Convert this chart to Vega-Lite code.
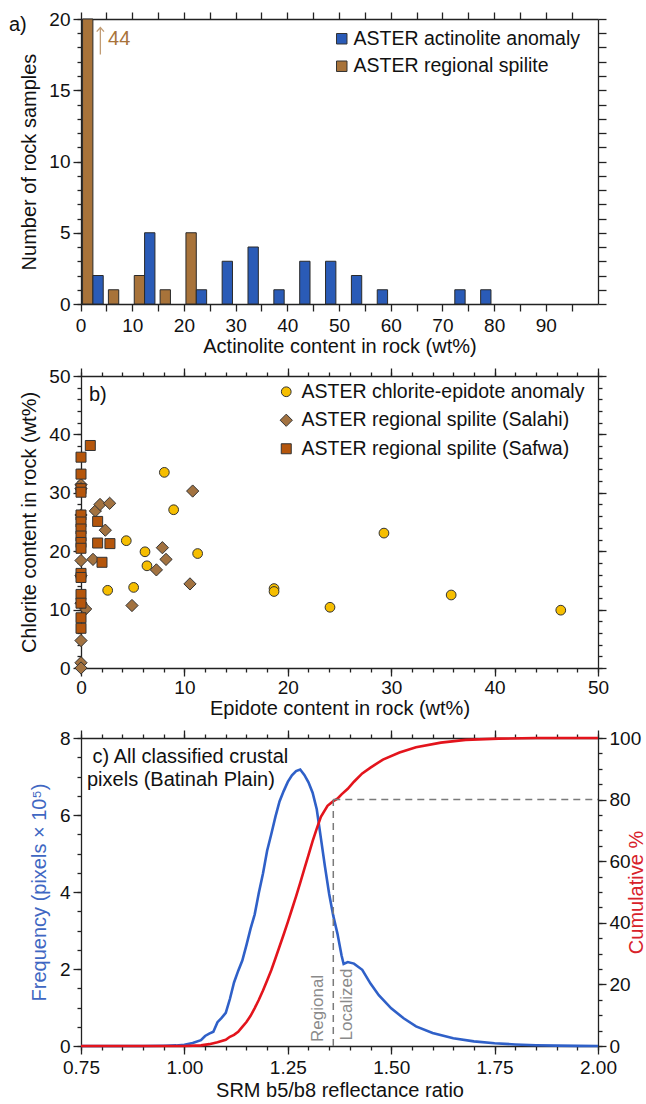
{
  "$schema": "https://vega.github.io/schema/vega-lite/v6.json",
  "background": "white",
  "padding": {"left": 8, "top": 10, "right": 0, "bottom": 0},
  "spacing": 11,
  "resolve": {
    "scale": {"color": "independent", "shape": "independent", "size": "independent"},
    "legend": {"color": "independent", "shape": "independent", "size": "independent"}
  },
  "datasets": {
    "hist": [
      {"bin": 0, "series": "ASTER regional spilite", "count": 44},
      {"bin": 5, "series": "ASTER regional spilite", "count": 1},
      {"bin": 10, "series": "ASTER regional spilite", "count": 2},
      {"bin": 15, "series": "ASTER regional spilite", "count": 1},
      {"bin": 20, "series": "ASTER regional spilite", "count": 5},
      {"bin": 0, "series": "ASTER actinolite anomaly", "count": 2},
      {"bin": 10, "series": "ASTER actinolite anomaly", "count": 5},
      {"bin": 20, "series": "ASTER actinolite anomaly", "count": 1},
      {"bin": 25, "series": "ASTER actinolite anomaly", "count": 3},
      {"bin": 30, "series": "ASTER actinolite anomaly", "count": 4},
      {"bin": 35, "series": "ASTER actinolite anomaly", "count": 1},
      {"bin": 40, "series": "ASTER actinolite anomaly", "count": 3},
      {"bin": 45, "series": "ASTER actinolite anomaly", "count": 3},
      {"bin": 50, "series": "ASTER actinolite anomaly", "count": 2},
      {"bin": 55, "series": "ASTER actinolite anomaly", "count": 1},
      {"bin": 70, "series": "ASTER actinolite anomaly", "count": 1},
      {"bin": 75, "series": "ASTER actinolite anomaly", "count": 1}
    ],
    "histNote": [
      {"bin": 0, "series": "ASTER actinolite anomaly", "mid": 18.45, "ty": 18.6, "label": "44"}
    ],
    "panelA": [
      {"bin": 0, "y": 19.6, "label": "a)"}
    ],
    "pts": [
      {"epidote": 10.8, "chlorite": 30.3, "series": "ASTER regional spilite (Salahi)"},
      {"epidote": 1.39, "chlorite": 26.9, "series": "ASTER regional spilite (Salahi)"},
      {"epidote": 1.84, "chlorite": 28.0, "series": "ASTER regional spilite (Salahi)"},
      {"epidote": 2.77, "chlorite": 28.2, "series": "ASTER regional spilite (Salahi)"},
      {"epidote": 2.35, "chlorite": 23.6, "series": "ASTER regional spilite (Salahi)"},
      {"epidote": 1.16, "chlorite": 18.6, "series": "ASTER regional spilite (Salahi)"},
      {"epidote": 7.87, "chlorite": 20.6, "series": "ASTER regional spilite (Salahi)"},
      {"epidote": 8.22, "chlorite": 18.6, "series": "ASTER regional spilite (Salahi)"},
      {"epidote": 7.29, "chlorite": 16.8, "series": "ASTER regional spilite (Salahi)"},
      {"epidote": 10.54, "chlorite": 14.4, "series": "ASTER regional spilite (Salahi)"},
      {"epidote": 4.93, "chlorite": 10.7, "series": "ASTER regional spilite (Salahi)"},
      {"epidote": 0.45, "chlorite": 10.1, "series": "ASTER regional spilite (Salahi)"},
      {"epidote": 0, "chlorite": 31.4, "series": "ASTER regional spilite (Salahi)"},
      {"epidote": 0, "chlorite": 30.7, "series": "ASTER regional spilite (Salahi)"},
      {"epidote": 0, "chlorite": 26.2, "series": "ASTER regional spilite (Salahi)"},
      {"epidote": 0, "chlorite": 18.4, "series": "ASTER regional spilite (Salahi)"},
      {"epidote": 0, "chlorite": 15.8, "series": "ASTER regional spilite (Salahi)"},
      {"epidote": 0, "chlorite": 11.1, "series": "ASTER regional spilite (Salahi)"},
      {"epidote": 0, "chlorite": 4.7, "series": "ASTER regional spilite (Salahi)"},
      {"epidote": 0, "chlorite": 0.9, "series": "ASTER regional spilite (Salahi)"},
      {"epidote": 0, "chlorite": 0, "series": "ASTER regional spilite (Salahi)"},
      {"epidote": 0.9, "chlorite": 38.1, "series": "ASTER regional spilite (Safwa)"},
      {"epidote": 0, "chlorite": 36.1, "series": "ASTER regional spilite (Safwa)"},
      {"epidote": 0, "chlorite": 33.2, "series": "ASTER regional spilite (Safwa)"},
      {"epidote": 0, "chlorite": 30.7, "series": "ASTER regional spilite (Safwa)"},
      {"epidote": 0, "chlorite": 30.1, "series": "ASTER regional spilite (Safwa)"},
      {"epidote": 0, "chlorite": 26.2, "series": "ASTER regional spilite (Safwa)"},
      {"epidote": 0, "chlorite": 25.0, "series": "ASTER regional spilite (Safwa)"},
      {"epidote": 0, "chlorite": 23.8, "series": "ASTER regional spilite (Safwa)"},
      {"epidote": 0, "chlorite": 22.6, "series": "ASTER regional spilite (Safwa)"},
      {"epidote": 0, "chlorite": 21.5, "series": "ASTER regional spilite (Safwa)"},
      {"epidote": 0, "chlorite": 20.5, "series": "ASTER regional spilite (Safwa)"},
      {"epidote": 1.61, "chlorite": 25.1, "series": "ASTER regional spilite (Safwa)"},
      {"epidote": 1.61, "chlorite": 21.4, "series": "ASTER regional spilite (Safwa)"},
      {"epidote": 2.8, "chlorite": 21.3, "series": "ASTER regional spilite (Safwa)"},
      {"epidote": 2.03, "chlorite": 18.1, "series": "ASTER regional spilite (Safwa)"},
      {"epidote": 0, "chlorite": 16.2, "series": "ASTER regional spilite (Safwa)"},
      {"epidote": 0, "chlorite": 15.5, "series": "ASTER regional spilite (Safwa)"},
      {"epidote": 0, "chlorite": 12.6, "series": "ASTER regional spilite (Safwa)"},
      {"epidote": 0, "chlorite": 11.1, "series": "ASTER regional spilite (Safwa)"},
      {"epidote": 0, "chlorite": 8.6, "series": "ASTER regional spilite (Safwa)"},
      {"epidote": 0, "chlorite": 6.8, "series": "ASTER regional spilite (Safwa)"},
      {"epidote": 8.06, "chlorite": 33.5, "series": "ASTER chlorite-epidote anomaly"},
      {"epidote": 8.96, "chlorite": 27.1, "series": "ASTER chlorite-epidote anomaly"},
      {"epidote": 4.38, "chlorite": 21.8, "series": "ASTER chlorite-epidote anomaly"},
      {"epidote": 6.19, "chlorite": 19.9, "series": "ASTER chlorite-epidote anomaly"},
      {"epidote": 6.38, "chlorite": 17.5, "series": "ASTER chlorite-epidote anomaly"},
      {"epidote": 11.28, "chlorite": 19.6, "series": "ASTER chlorite-epidote anomaly"},
      {"epidote": 2.58, "chlorite": 13.3, "series": "ASTER chlorite-epidote anomaly"},
      {"epidote": 5.09, "chlorite": 13.8, "series": "ASTER chlorite-epidote anomaly"},
      {"epidote": 18.67, "chlorite": 13.6, "series": "ASTER chlorite-epidote anomaly"},
      {"epidote": 18.67, "chlorite": 13.1, "series": "ASTER chlorite-epidote anomaly"},
      {"epidote": 24.08, "chlorite": 10.4, "series": "ASTER chlorite-epidote anomaly"},
      {"epidote": 29.3, "chlorite": 23.1, "series": "ASTER chlorite-epidote anomaly"},
      {"epidote": 35.8, "chlorite": 12.5, "series": "ASTER chlorite-epidote anomaly"},
      {"epidote": 46.4, "chlorite": 9.9, "series": "ASTER chlorite-epidote anomaly"}
    ],
    "panelB": [
      {"epidote": 0.77, "chlorite": 46.75, "label": "b)"}
    ],
    "freq": [
      {"ratio": 0.75, "freq": 0}, {"ratio": 0.80, "freq": 0}, {"ratio": 0.85, "freq": 0},
      {"ratio": 0.90, "freq": 0}, {"ratio": 0.95, "freq": 0.005}, {"ratio": 0.98, "freq": 0.015},
      {"ratio": 1.00, "freq": 0.03}, {"ratio": 1.02, "freq": 0.08}, {"ratio": 1.04, "freq": 0.15},
      {"ratio": 1.05, "freq": 0.26}, {"ratio": 1.06, "freq": 0.32}, {"ratio": 1.07, "freq": 0.37},
      {"ratio": 1.08, "freq": 0.62}, {"ratio": 1.09, "freq": 0.73}, {"ratio": 1.10, "freq": 0.86},
      {"ratio": 1.11, "freq": 1.22}, {"ratio": 1.12, "freq": 1.65}, {"ratio": 1.13, "freq": 1.95},
      {"ratio": 1.14, "freq": 2.22}, {"ratio": 1.15, "freq": 2.62}, {"ratio": 1.16, "freq": 3.05},
      {"ratio": 1.17, "freq": 3.42}, {"ratio": 1.18, "freq": 3.98}, {"ratio": 1.19, "freq": 4.48},
      {"ratio": 1.20, "freq": 5.07}, {"ratio": 1.21, "freq": 5.5}, {"ratio": 1.22, "freq": 5.95},
      {"ratio": 1.23, "freq": 6.35}, {"ratio": 1.24, "freq": 6.62}, {"ratio": 1.25, "freq": 6.86},
      {"ratio": 1.26, "freq": 7.03}, {"ratio": 1.27, "freq": 7.14}, {"ratio": 1.28, "freq": 7.18},
      {"ratio": 1.29, "freq": 7.04}, {"ratio": 1.30, "freq": 6.85}, {"ratio": 1.31, "freq": 6.58},
      {"ratio": 1.32, "freq": 6.15}, {"ratio": 1.33, "freq": 5.4}, {"ratio": 1.34, "freq": 4.65},
      {"ratio": 1.35, "freq": 3.95}, {"ratio": 1.36, "freq": 3.38}, {"ratio": 1.37, "freq": 2.92},
      {"ratio": 1.38, "freq": 2.35}, {"ratio": 1.385, "freq": 2.13}, {"ratio": 1.395, "freq": 2.18},
      {"ratio": 1.41, "freq": 2.14}, {"ratio": 1.43, "freq": 1.98}, {"ratio": 1.45, "freq": 1.62},
      {"ratio": 1.47, "freq": 1.32}, {"ratio": 1.50, "freq": 0.98}, {"ratio": 1.53, "freq": 0.72},
      {"ratio": 1.56, "freq": 0.51}, {"ratio": 1.60, "freq": 0.34}, {"ratio": 1.65, "freq": 0.2},
      {"ratio": 1.70, "freq": 0.12}, {"ratio": 1.75, "freq": 0.07}, {"ratio": 1.80, "freq": 0.04},
      {"ratio": 1.85, "freq": 0.02}, {"ratio": 1.90, "freq": 0.01}, {"ratio": 1.95, "freq": 0.003},
      {"ratio": 2.00, "freq": 0}
    ],
    "cum": [
      {"ratio": 0.75, "cum": 0}, {"ratio": 1.00, "cum": 0}, {"ratio": 1.04, "cum": 0.2},
      {"ratio": 1.06, "cum": 0.6}, {"ratio": 1.08, "cum": 1.2}, {"ratio": 1.10, "cum": 2.0},
      {"ratio": 1.11, "cum": 3.0}, {"ratio": 1.12, "cum": 3.6}, {"ratio": 1.13, "cum": 4.6},
      {"ratio": 1.14, "cum": 6.2}, {"ratio": 1.15, "cum": 7.8}, {"ratio": 1.16, "cum": 9.8},
      {"ratio": 1.17, "cum": 12.3}, {"ratio": 1.18, "cum": 15.0}, {"ratio": 1.19, "cum": 18.0},
      {"ratio": 1.20, "cum": 21.3}, {"ratio": 1.21, "cum": 24.6}, {"ratio": 1.22, "cum": 28.4},
      {"ratio": 1.23, "cum": 32.3}, {"ratio": 1.24, "cum": 36.2}, {"ratio": 1.25, "cum": 40.2},
      {"ratio": 1.26, "cum": 44.4}, {"ratio": 1.27, "cum": 48.6}, {"ratio": 1.28, "cum": 53.0},
      {"ratio": 1.29, "cum": 57.5}, {"ratio": 1.30, "cum": 62.0}, {"ratio": 1.31, "cum": 66.5},
      {"ratio": 1.32, "cum": 70.6}, {"ratio": 1.33, "cum": 74.4}, {"ratio": 1.346, "cum": 78.0},
      {"ratio": 1.36, "cum": 79.5}, {"ratio": 1.37, "cum": 80.3}, {"ratio": 1.38, "cum": 81.7},
      {"ratio": 1.395, "cum": 83.5}, {"ratio": 1.41, "cum": 85.8}, {"ratio": 1.43, "cum": 88.5},
      {"ratio": 1.45, "cum": 90.4}, {"ratio": 1.48, "cum": 93.0}, {"ratio": 1.52, "cum": 95.3},
      {"ratio": 1.56, "cum": 97.0}, {"ratio": 1.62, "cum": 98.5}, {"ratio": 1.68, "cum": 99.4},
      {"ratio": 1.76, "cum": 99.8}, {"ratio": 1.85, "cum": 100}, {"ratio": 2.00, "cum": 100}
    ],
    "guides": [
      {"ratio": 1.36, "ratio2": 1.36, "cum": 0, "cum2": 80},
      {"ratio": 1.36, "ratio2": 2.0, "cum": 80, "cum2": 80}
    ],
    "zoneLabels": [
      {"ratio": 1.324, "cum": 1.3, "label": "Regional"},
      {"ratio": 1.393, "cum": 1.8, "label": "Localized"}
    ],
    "panelC": [
      {"ratio": 0.778, "freq": 7.506, "label": "c) All classified crustal"},
      {"ratio": 0.7645, "freq": 6.9, "label": "pixels (Batinah Plain)"}
    ]
  },
  "vconcat": [
    {
      "width": 517,
      "height": 285,
      "layer": [
        {
          "data": {"name": "hist"},
          "mark": {"type": "bar", "stroke": "#2a2a2a", "strokeWidth": 1},
          "encoding": {
            "x": {
              "field": "bin", "type": "ordinal",
              "scale": {"domain": [0,5,10,15,20,25,30,35,40,45,50,55,60,65,70,75,80,85,90,95], "paddingInner": 0, "paddingOuter": 0},
              "axis": {"orient": "bottom", "title": "Actinolite content in rock (wt%)", "bandPosition": 0, "labelOffset": -12.9, "labelAngle": 0, "tickSize": 7, "labelPadding": 5, "titlePadding": 1, "labelExpr": "datum.value % 10 === 0 ? datum.label : ''"}
            },
            "xOffset": {
              "field": "series", "type": "nominal",
              "scale": {"domain": ["ASTER regional spilite", "ASTER actinolite anomaly"], "paddingInner": 0, "paddingOuter": 0.25, "align": 0.3}
            },
            "y": {
              "field": "count", "type": "quantitative",
              "scale": {"domain": [0, 20], "nice": false, "clamp": true},
              "axis": {"orient": "left", "title": "Number of rock samples", "values": [0,5,10,15,20], "tickSize": 8, "labelPadding": 3, "titlePadding": 9}
            },
            "color": {
              "field": "series", "type": "nominal",
              "scale": {"domain": ["ASTER actinolite anomaly", "ASTER regional spilite"], "range": ["#2A5BB7", "#A8733A"]},
              "legend": {"title": null, "orient": "none", "legendX": 251, "legendY": 10, "symbolType": "square", "symbolSize": 110, "labelOffset": 2, "rowPadding": 6.5}
            }
          }
        },
        {
          "data": {"name": "hist"},
          "mark": {"type": "point", "opacity": 0},
          "encoding": {
            "x": {"field": "bin", "type": "ordinal", "axis": {"orient": "top", "title": null, "labels": false, "bandPosition": 0, "tickSize": 7}},
            "y": {"field": "count", "type": "quantitative", "axis": {"orient": "left", "title": null, "labels": false, "domain": false, "values": [0,1,2,3,4,5,6,7,8,9,10,11,12,13,14,15,16,17,18,19,20], "tickSize": 4}}
          }
        },
        {
          "data": {"name": "hist"},
          "mark": {"type": "point", "opacity": 0},
          "encoding": {
            "x": {"field": "bin", "type": "ordinal", "axis": null},
            "y": {"field": "count", "type": "quantitative", "axis": {"orient": "right", "title": null, "labels": false, "values": [0,1,2,3,4,5,6,7,8,9,10,11,12,13,14,15,16,17,18,19,20], "tickSize": 8}}
          }
        },
        {
          "data": {"name": "histNote"},
          "mark": {"type": "point", "shape": "M0.17,1L0.17,-1M-0.1,-0.7L0.17,-1L0.44,-0.7", "size": 730, "filled": false, "stroke": "#A8733A", "strokeWidth": 1.3},
          "encoding": {
            "x": {"field": "bin", "type": "ordinal", "axis": null},
            "xOffset": {"field": "series", "type": "nominal"},
            "y": {"field": "mid", "type": "quantitative", "axis": null}
          }
        },
        {
          "data": {"name": "histNote"},
          "mark": {"type": "text", "align": "left", "baseline": "middle", "dx": 10, "fontSize": 20, "color": "#A8733A"},
          "encoding": {
            "x": {"field": "bin", "type": "ordinal", "axis": null},
            "xOffset": {"field": "series", "type": "nominal"},
            "y": {"field": "ty", "type": "quantitative", "axis": null},
            "text": {"field": "label"}
          }
        },
        {
          "data": {"name": "panelA"},
          "mark": {"type": "text", "align": "left", "baseline": "middle", "dx": -85, "fontSize": 20, "color": "#111"},
          "encoding": {
            "x": {"field": "bin", "type": "ordinal", "axis": null},
            "y": {"field": "y", "type": "quantitative", "axis": null},
            "text": {"field": "label"}
          }
        }
      ],
      "resolve": {"axis": {"x": "independent", "y": "independent"}}
    },
    {
      "width": 517,
      "height": 292,
      "layer": [
        {
          "data": {"name": "pts"},
          "mark": {"type": "point", "filled": true, "opacity": 1, "stroke": "#333333", "strokeWidth": 1},
          "encoding": {
            "x": {
              "field": "epidote", "type": "quantitative",
              "scale": {"domain": [0, 50], "nice": false},
              "axis": {"orient": "bottom", "title": "Epidote content in rock (wt%)", "values": [0,10,20,30,40,50], "tickSize": 8, "labelPadding": 2, "titlePadding": 1}
            },
            "y": {
              "field": "chlorite", "type": "quantitative",
              "scale": {"domain": [0, 50], "nice": false},
              "axis": {"orient": "left", "title": "Chlorite content in rock (wt%)", "values": [0,10,20,30,40,50], "tickSize": 8, "labelPadding": 3, "titlePadding": 9}
            },
            "color": {
              "field": "series", "type": "nominal",
              "scale": {"domain": ["ASTER chlorite-epidote anomaly", "ASTER regional spilite (Salahi)", "ASTER regional spilite (Safwa)"], "range": ["#F6BE00", "#A27240", "#B5560C"]},
              "legend": {"title": null, "orient": "none", "legendX": 195.5, "legendY": 6, "labelOffset": 5.5, "rowPadding": 7.5}
            },
            "shape": {
              "field": "series", "type": "nominal",
              "scale": {"domain": ["ASTER chlorite-epidote anomaly", "ASTER regional spilite (Salahi)", "ASTER regional spilite (Safwa)"], "range": ["circle", "diamond", "square"]},
              "legend": {"title": null, "orient": "none", "legendX": 195.5, "legendY": 6, "labelOffset": 5.5, "rowPadding": 7.5}
            },
            "size": {
              "field": "series", "type": "nominal",
              "scale": {"type": "ordinal", "domain": ["ASTER chlorite-epidote anomaly", "ASTER regional spilite (Salahi)", "ASTER regional spilite (Safwa)"], "range": [95, 150, 100]},
              "legend": {"title": null, "orient": "none", "legendX": 195.5, "legendY": 6, "labelOffset": 5.5, "rowPadding": 7.5}
            }
          }
        },
        {
          "data": {"name": "pts"},
          "mark": {"type": "point", "opacity": 0},
          "encoding": {
            "x": {"field": "epidote", "type": "quantitative", "axis": {"orient": "bottom", "title": null, "labels": false, "domain": false, "values": [0,2,4,6,8,10,12,14,16,18,20,22,24,26,28,30,32,34,36,38,40,42,44,46,48,50], "tickSize": 4}},
            "y": {"field": "chlorite", "type": "quantitative", "axis": {"orient": "left", "title": null, "labels": false, "domain": false, "values": [0,2,4,6,8,10,12,14,16,18,20,22,24,26,28,30,32,34,36,38,40,42,44,46,48,50], "tickSize": 4}}
          }
        },
        {
          "data": {"name": "pts"},
          "mark": {"type": "point", "opacity": 0},
          "encoding": {
            "x": {"field": "epidote", "type": "quantitative", "axis": {"orient": "top", "title": null, "labels": false, "values": [0,10,20,30,40,50], "tickSize": 8}},
            "y": {"field": "chlorite", "type": "quantitative", "axis": {"orient": "right", "title": null, "labels": false, "values": [0,10,20,30,40,50], "tickSize": 8}}
          }
        },
        {
          "data": {"name": "pts"},
          "mark": {"type": "point", "opacity": 0},
          "encoding": {
            "x": {"field": "epidote", "type": "quantitative", "axis": {"orient": "top", "title": null, "labels": false, "domain": false, "values": [0,2,4,6,8,10,12,14,16,18,20,22,24,26,28,30,32,34,36,38,40,42,44,46,48,50], "tickSize": 4}},
            "y": {"field": "chlorite", "type": "quantitative", "axis": {"orient": "right", "title": null, "labels": false, "domain": false, "values": [0,2,4,6,8,10,12,14,16,18,20,22,24,26,28,30,32,34,36,38,40,42,44,46,48,50], "tickSize": 4}}
          }
        },
        {
          "data": {"name": "panelB"},
          "mark": {"type": "text", "align": "left", "baseline": "middle", "fontSize": 20, "color": "#111"},
          "encoding": {
            "x": {"field": "epidote", "type": "quantitative", "axis": null},
            "y": {"field": "chlorite", "type": "quantitative", "axis": null},
            "text": {"field": "label"}
          }
        }
      ],
      "resolve": {"axis": {"x": "independent", "y": "independent"}}
    },
    {
      "width": 517,
      "height": 308,
      "layer": [
        {
          "layer": [
            {
              "data": {"name": "freq"},
              "mark": {"type": "line", "color": "#2F60C8", "strokeWidth": 2.6},
              "encoding": {
                "x": {
                  "field": "ratio", "type": "quantitative",
                  "scale": {"domain": [0.75, 2], "nice": false, "zero": false},
                  "axis": {"orient": "bottom", "title": "SRM b5/b8 reflectance ratio", "values": [0.75,1,1.25,1.5,1.75,2], "format": ".2f", "tickSize": 8, "labelPadding": 4, "titlePadding": 3}
                },
                "y": {
                  "field": "freq", "type": "quantitative",
                  "scale": {"domain": [0, 8], "nice": false},
                  "axis": {"orient": "left", "title": "Frequency (pixels × 10⁵)", "titleColor": "#3F67C2", "values": [0,2,4,6,8], "tickSize": 8, "labelPadding": 3, "titlePadding": 10}
                }
              }
            },
            {
              "data": {"name": "freq"},
              "mark": {"type": "point", "opacity": 0},
              "encoding": {
                "x": {"field": "ratio", "type": "quantitative", "axis": {"orient": "bottom", "title": null, "labels": false, "domain": false, "values": [0.75,0.8,0.85,0.9,0.95,1,1.05,1.1,1.15,1.2,1.25,1.3,1.35,1.4,1.45,1.5,1.55,1.6,1.65,1.7,1.75,1.8,1.85,1.9,1.95,2], "tickSize": 4}},
                "y": {"field": "freq", "type": "quantitative", "axis": {"orient": "left", "title": null, "labels": false, "domain": false, "values": [0,0.5,1,1.5,2,2.5,3,3.5,4,4.5,5,5.5,6,6.5,7,7.5,8], "tickSize": 4}}
              }
            },
            {
              "data": {"name": "panelC"},
              "mark": {"type": "text", "align": "left", "baseline": "middle", "fontSize": 20, "color": "#111"},
              "encoding": {
                "x": {"field": "ratio", "type": "quantitative", "axis": null},
                "y": {"field": "freq", "type": "quantitative", "axis": null},
                "text": {"field": "label"}
              }
            }
          ],
          "resolve": {"axis": {"x": "independent", "y": "independent"}}
        },
        {
          "layer": [
            {
              "data": {"name": "cum"},
              "mark": {"type": "line", "color": "#E3141C", "strokeWidth": 2.6},
              "encoding": {
                "x": {"field": "ratio", "type": "quantitative", "axis": {"orient": "top", "title": null, "labels": false, "values": [0.75,1,1.25,1.5,1.75,2], "tickSize": 8}},
                "y": {
                  "field": "cum", "type": "quantitative",
                  "scale": {"domain": [0, 100], "nice": false},
                  "axis": {"orient": "right", "title": "Cumulative %", "titleColor": "#D8222A", "titleAngle": -90, "titleBaseline": "top", "values": [0,20,40,60,80,100], "tickSize": 8, "labelPadding": 3, "titlePadding": -14}
                }
              }
            },
            {
              "data": {"name": "cum"},
              "mark": {"type": "point", "opacity": 0},
              "encoding": {
                "x": {"field": "ratio", "type": "quantitative", "axis": {"orient": "top", "title": null, "labels": false, "domain": false, "values": [0.75,0.8,0.85,0.9,0.95,1,1.05,1.1,1.15,1.2,1.25,1.3,1.35,1.4,1.45,1.5,1.55,1.6,1.65,1.7,1.75,1.8,1.85,1.9,1.95,2], "tickSize": 4}},
                "y": {"field": "cum", "type": "quantitative", "axis": {"orient": "right", "title": null, "labels": false, "domain": false, "values": [0,5,10,15,20,25,30,35,40,45,50,55,60,65,70,75,80,85,90,95,100], "tickSize": 4}}
              }
            },
            {
              "data": {"name": "guides"},
              "mark": {"type": "rule", "color": "#7a7a7a", "strokeWidth": 1.5, "strokeDash": [7, 5]},
              "encoding": {
                "x": {"field": "ratio", "type": "quantitative", "axis": null},
                "x2": {"field": "ratio2"},
                "y": {"field": "cum", "type": "quantitative", "axis": null},
                "y2": {"field": "cum2"}
              }
            },
            {
              "data": {"name": "zoneLabels"},
              "mark": {"type": "text", "angle": -90, "align": "left", "baseline": "middle", "fontSize": 17, "color": "#8a8a8a"},
              "encoding": {
                "x": {"field": "ratio", "type": "quantitative", "axis": null},
                "y": {"field": "cum", "type": "quantitative", "axis": null},
                "text": {"field": "label"}
              }
            }
          ],
          "resolve": {"axis": {"x": "independent", "y": "independent"}}
        }
      ],
      "resolve": {"scale": {"y": "independent"}, "axis": {"x": "independent", "y": "independent"}}
    }
  ],
  "config": {
    "font": "Liberation Sans",
    "view": {"stroke": null},
    "axis": {
      "domainColor": "#222222", "domainWidth": 1.3,
      "tickColor": "#222222", "tickWidth": 1.3,
      "labelFont": "Liberation Sans", "labelFontSize": 19, "labelColor": "#111111",
      "titleFont": "Liberation Sans", "titleFontSize": 20, "titleFontWeight": "normal", "titleColor": "#111111",
      "grid": false, "labelFlush": false, "labelOverlap": false
    },
    "legend": {
      "labelFont": "Liberation Sans", "labelFontSize": 19.5, "labelColor": "#111111",
      "symbolStrokeColor": "#333333", "symbolStrokeWidth": 1, "padding": 0, "labelLimit": 400
    },
    "text": {"font": "Liberation Sans"}
  }
}
